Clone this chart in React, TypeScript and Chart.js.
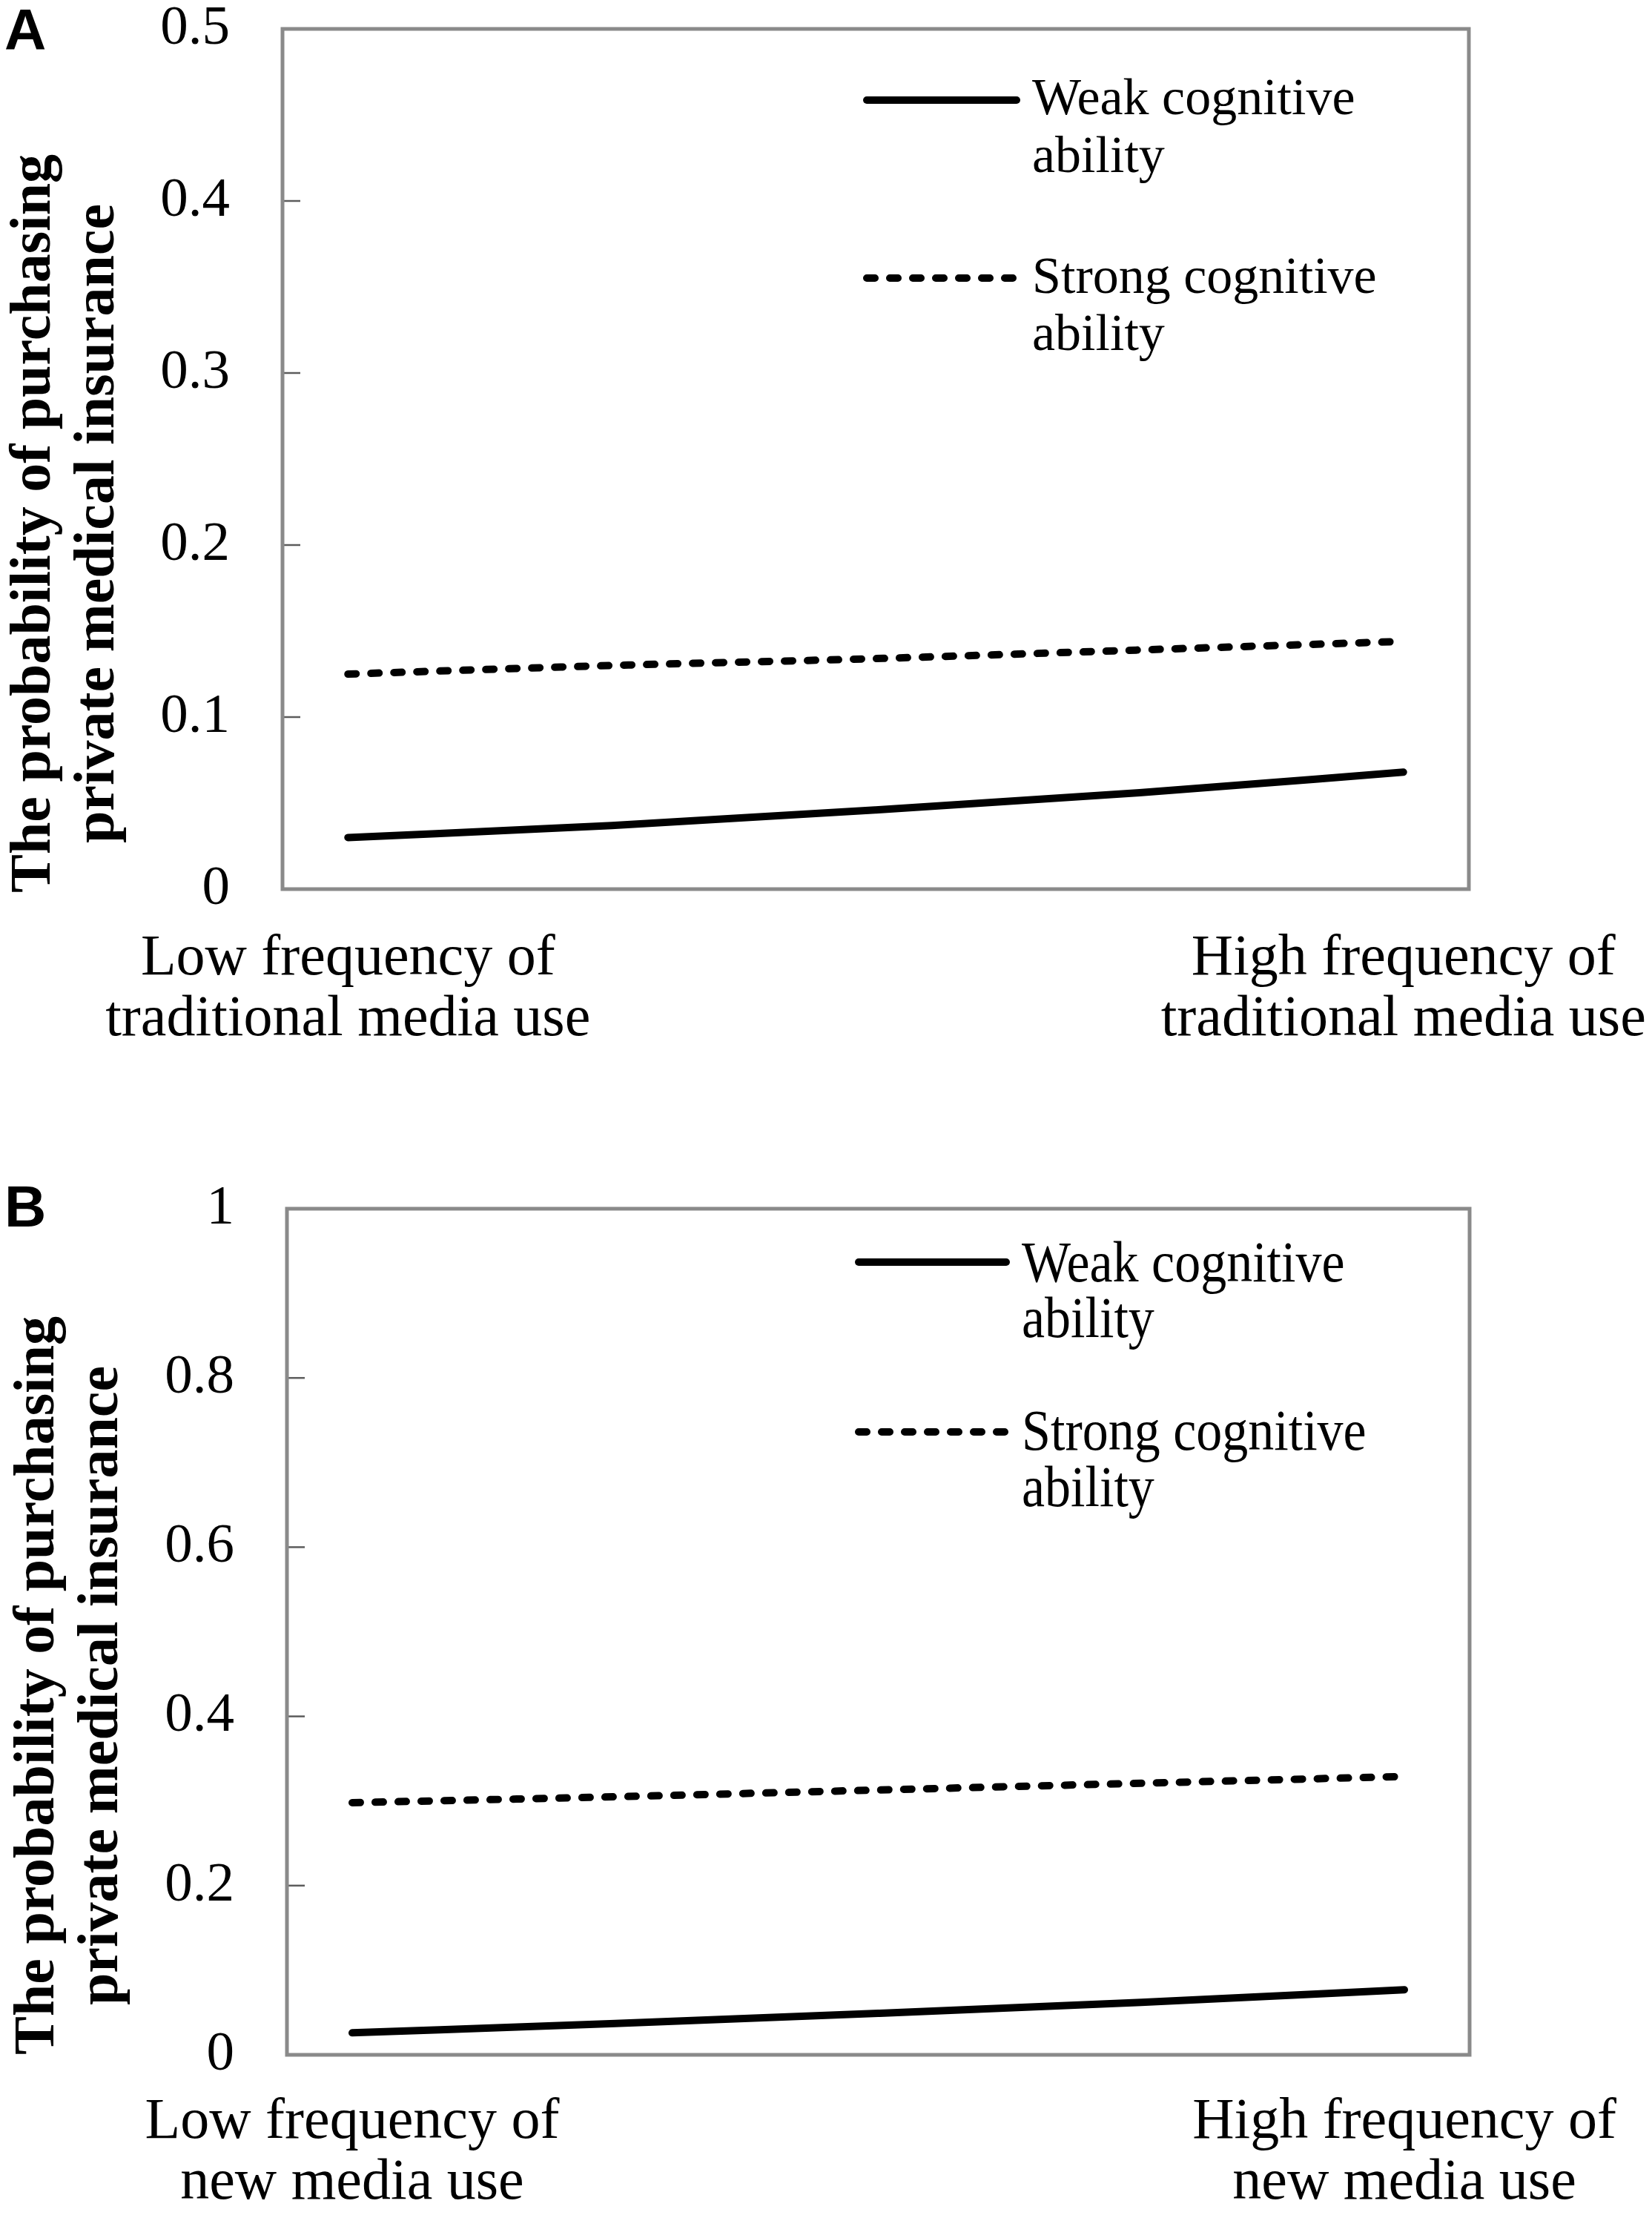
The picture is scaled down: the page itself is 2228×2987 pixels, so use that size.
import { useEffect, useRef } from "react";
import { Chart, registerables } from "chart.js";

Chart.register(...registerables);

// shared x positions: low (0) -> high (1) media use
const xPositions = [0, 0.25, 0.5, 0.75, 1];

// panel A: traditional media
const weakA = [0.03, 0.037, 0.046, 0.056, 0.068];
const strongA = [0.125, 0.13, 0.134, 0.139, 0.144];
const yTicksA = [0, 0.1, 0.2, 0.3, 0.4, 0.5];
const xLabelsA = [
  ["Low frequency of", "traditional media use"],
  ["High frequency of", "traditional media use"],
];

// panel B: new media
const weakB = [0.026, 0.037, 0.049, 0.062, 0.077];
const strongB = [0.298, 0.305, 0.313, 0.321, 0.329];
const yTicksB = [0, 0.2, 0.4, 0.6, 0.8, 1];
const xLabelsB = [
  ["Low frequency of", "new media use"],
  ["High frequency of", "new media use"],
];

const seriesNames = [
  ["Weak cognitive", "ability"],
  ["Strong cognitive", "ability"],
];
const yTitle = ["The probability of purchasing", "private medical insurance"];

type PanelProps = {
  letter: string;
  weak: number[];
  strong: number[];
  yTicks: number[];
  xLabels: string[][];
  top: number;
  height: number;
  padTop: number;
  axisHeight: number;
  axisWidth: number;
  padRight: number;
  xPad: number;
  legendX: number[];
  legendRows: number[][];
  legendStretch: number;
  titleY: number;
  titleX: number[];
  letterY: number;
};

function Panel(p: PanelProps) {
  const canvasRef = useRef<HTMLCanvasElement>(null);
  const chartRef = useRef<Chart | null>(null);

  useEffect(() => {
    if (!canvasRef.current) return;

    const decorations = {
      id: "decorations",
      afterDraw(chart: any) {
        const { ctx, chartArea: a } = chart;
        const ys = chart.scales.y;
        ctx.save();

        // short inward ticks on the value axis
        ctx.strokeStyle = "#5c5c5c";
        ctx.lineWidth = 2.5;
        ys.ticks.forEach((t: any) => {
          const py = ys.getPixelForValue(t.value);
          ctx.beginPath();
          ctx.moveTo(a.left, py);
          ctx.lineTo(a.left + 24, py);
          ctx.stroke();
        });

        // plot frame
        ctx.strokeStyle = "#8a8a8a";
        ctx.lineWidth = 5;
        ctx.strokeRect(a.left, a.top, a.right - a.left, a.bottom - a.top);

        // legend inside the plot
        ctx.fillStyle = "#000";
        chart.data.datasets.forEach((ds: any, i: number) => {
          const [sy, b1, b2] = p.legendRows[i];
          ctx.beginPath();
          ctx.setLineDash(ds.borderDash || []);
          ctx.lineCap = "round";
          ctx.lineWidth = ds.borderWidth;
          ctx.strokeStyle = "#000";
          ctx.moveTo(p.legendX[0], sy);
          ctx.lineTo(p.legendX[1], sy);
          ctx.stroke();
          ctx.setLineDash([]);
          ctx.font = '70px "Liberation Serif"';
          ctx.textAlign = "left";
          ctx.textBaseline = "alphabetic";
          [b1, b2].forEach((b, k) => {
            ctx.save();
            ctx.translate(p.legendX[2], b);
            ctx.scale(1, p.legendStretch);
            ctx.fillText(seriesNames[i][k], 0, 0);
            ctx.restore();
          });
        });

        // y axis title, two lines
        ctx.save();
        ctx.translate(0, p.titleY);
        ctx.rotate(-Math.PI / 2);
        ctx.font = 'bold 78px "Liberation Serif"';
        ctx.textAlign = "center";
        ctx.textBaseline = "alphabetic";
        ctx.fillText(yTitle[0], 0, p.titleX[0]);
        ctx.fillText(yTitle[1], 0, p.titleX[1]);
        ctx.restore();

        // panel letter
        ctx.font = 'bold 78px "Liberation Sans"';
        ctx.textAlign = "left";
        ctx.fillText(p.letter, 6, p.letterY);

        ctx.restore();
      },
    };

    chartRef.current?.destroy();
    chartRef.current = new Chart(canvasRef.current, {
      type: "line",
      data: {
        datasets: [
          {
            label: seriesNames[0].join(" "),
            data: xPositions.map((x, i) => ({ x, y: p.weak[i] })),
            borderColor: "#000",
            borderWidth: 10,
            borderCapStyle: "round",
            pointRadius: 0,
            cubicInterpolationMode: "monotone",
          },
          {
            label: seriesNames[1].join(" "),
            data: xPositions.map((x, i) => ({ x, y: p.strong[i] })),
            borderColor: "#000",
            borderWidth: 10,
            borderDash: [11, 20],
            borderCapStyle: "round",
            pointRadius: 0,
            cubicInterpolationMode: "monotone",
          },
        ],
      },
      options: {
        responsive: false,
        devicePixelRatio: 1,
        animation: false,
        layout: { padding: { top: p.padTop, right: p.padRight, left: 0, bottom: 0 } },
        plugins: { legend: { display: false }, tooltip: { enabled: false } },
        scales: {
          x: {
            type: "linear",
            min: -0.062,
            max: 1.062,
            grid: { display: false, drawTicks: false },
            border: { display: false },
            afterBuildTicks: (s: any) => {
              s.ticks = [{ value: 0 }, { value: 1 }];
            },
            afterFit: (s: any) => {
              s.height = p.axisHeight;
              s.paddingLeft = 0;
              s.paddingRight = 0;
            },
            ticks: {
              color: "#000",
              padding: p.xPad,
              maxRotation: 0,
              autoSkip: false,
              font: { family: "Liberation Serif", size: 78, lineHeight: 1.05 },
              callback: (v: any) => (v === 0 ? p.xLabels[0] : p.xLabels[1]),
            },
          },
          y: {
            min: p.yTicks[0],
            max: p.yTicks[p.yTicks.length - 1],
            grid: { display: false, drawTicks: false },
            border: { display: false },
            afterBuildTicks: (s: any) => {
              s.ticks = p.yTicks.map((value) => ({ value }));
            },
            afterFit: (s: any) => {
              s.width = p.axisWidth;
              s.paddingTop = 0;
              s.paddingBottom = 0;
            },
            ticks: {
              color: "#000",
              padding: 71,
              font: { family: "Liberation Serif", size: 75 },
              callback: (v: any) => String(v),
            },
          },
        },
      },
      plugins: [decorations],
    });

    return () => chartRef.current?.destroy();
  }, [p]);

  return (
    <canvas
      ref={canvasRef}
      width={2228}
      height={p.height}
      style={{ position: "absolute", left: 0, top: p.top }}
    />
  );
}

const panelA: PanelProps = {
  letter: "A",
  weak: weakA,
  strong: strongA,
  yTicks: yTicksA,
  xLabels: xLabelsA,
  top: 0,
  height: 1480,
  padTop: 39,
  axisHeight: 281,
  axisWidth: 381,
  padRight: 247,
  xPad: 54,
  legendX: [1169, 1371, 1392],
  legendRows: [
    [135, 154, 232],
    [375, 395, 472],
  ],
  legendStretch: 1,
  titleY: 706,
  titleX: [67, 153],
  letterY: 67,
};

const panelB: PanelProps = {
  letter: "B",
  weak: weakB,
  strong: strongB,
  yTicks: yTicksB,
  xLabels: xLabelsB,
  top: 1480,
  height: 1507,
  padTop: 150,
  axisHeight: 216,
  axisWidth: 387,
  padRight: 246,
  xPad: 51,
  legendX: [1158, 1357, 1378],
  legendRows: [
    [222, 248, 323],
    [451, 475, 551],
  ],
  legendStretch: 1.12,
  titleY: 793,
  titleX: [72, 158],
  letterY: 174,
};

export default function App() {
  return (
    <div
      style={{
        position: "absolute",
        left: 0,
        top: 0,
        width: 2228,
        height: 2987,
        background: "#fff",
        overflow: "hidden",
      }}
    >
      <Panel {...panelA} />
      <Panel {...panelB} />
    </div>
  );
}
